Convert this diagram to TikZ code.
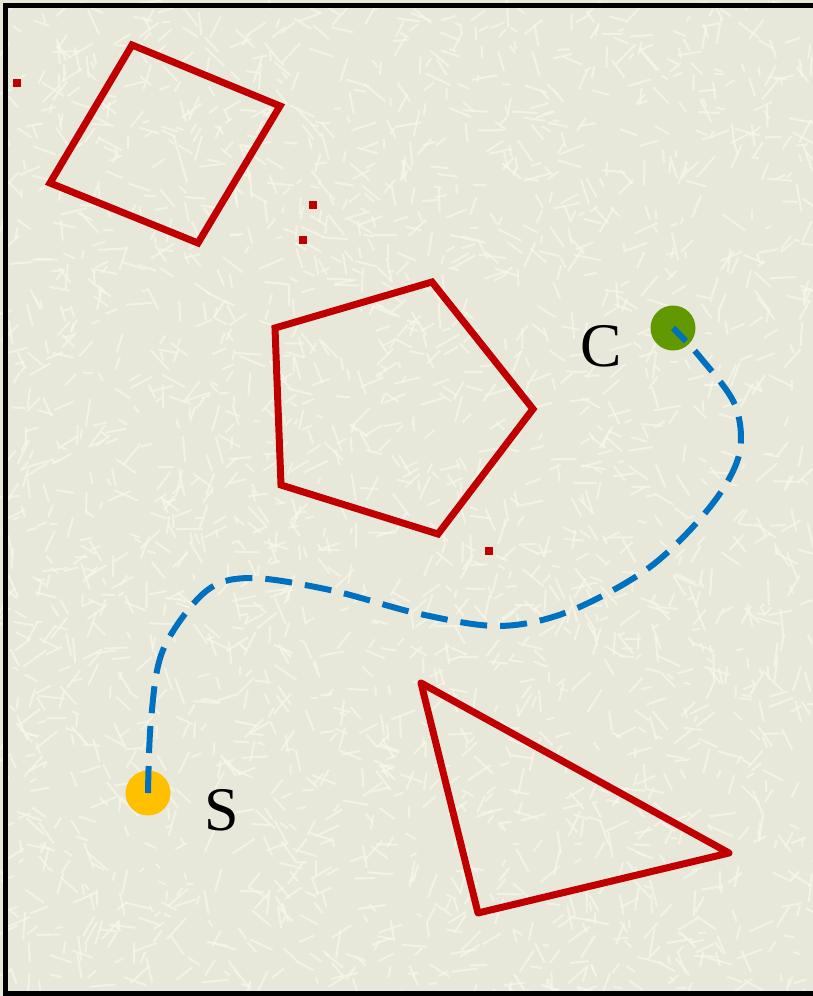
\documentclass[tikz,border=0pt]{standalone}
\usepackage{fontspec}
\setmainfont{Liberation Serif}
\usepackage{tikz}
\usetikzlibrary{calc,positioning}
\definecolor{paper}{RGB}{232,232,218}
\definecolor{grainc}{RGB}{247,247,234}
\definecolor{obst}{RGB}{192,0,0}
\definecolor{routec}{RGB}{0,112,192}
\definecolor{startc}{RGB}{255,192,0}
\definecolor{goalc}{RGB}{98,152,0}

\begin{document}
\begin{tikzpicture}[x=1pt, y=-1pt,
    obstacle/.style={draw=obst, line width=7pt},
    speck/.style={fill=obst, minimum size=8pt, inner sep=0pt, outer sep=0pt},
    route/.style={draw=routec, line width=6pt, dash pattern=on 27pt off 13pt},
    endpoint/.style={circle, minimum size=45pt, inner sep=0pt},
    tag/.style={font=\fontsize{62}{62}\selectfont, inner sep=0pt},
    grain/.style={draw=grainc, line width=2pt, opacity=0.75}]
      % Paper and texture
      \fill[paper] (0,0) rectangle (813,996);
      \useasboundingbox (0,0) rectangle (813,996);
      \pgfmathsetseed{11}
      \foreach \i in {1,...,2400} {
        \pgfmathsetmacro{\px}{rnd*813}
        \pgfmathsetmacro{\py}{rnd*996}
        \pgfmathsetmacro{\pa}{rnd*180}
        \pgfmathsetmacro{\pl}{6+rnd*22}
        \draw[grain] (\px,\py) -- ++(\pa:\pl);
      }
      % Frame (open on the right)
      \draw[line width=5pt] (813,5.5) -- (5.5,5.5) -- (5.5,993.5) -- (813,993.5);
      % Obstacles
      \draw[obstacle] (132,45) -- (280,106) -- (198,243) -- (50,183) -- cycle;
      \draw[obstacle] (432,282) -- (533,409) -- (438,534) -- (281,485) -- (275,328) -- cycle;
      \draw[obstacle, line join=round] (421,683) -- (729,853) -- (478,913) -- cycle;
      % Stray specks
      \node[speck] (p1) at (17,83) {};
      \node[speck] (p2) at (313,205) {};
      \node[speck] (p3) at (303,240) {};
      \node[speck] (p4) at (489,551) {};
      % Start and goal
      \node[endpoint, fill=startc] (S) at (148,793) {};
      \node[endpoint, fill=goalc] (C) at (673,328) {};
      \node[tag] (Slbl) at (222,810) {S};
      \node[tag] (Clbl) at (601,346) {C};
      % Path from S to C
      \draw[route] plot[smooth, tension=0.55] coordinates {(S.center) (151,720) (163,650) (205,592) (250,578) (330,590) (420,614) (500,626) (570,611) (650,567) (710,507) (739,455) (735,405) (700,357) (C.center)};
    \end{tikzpicture}
\end{document}
